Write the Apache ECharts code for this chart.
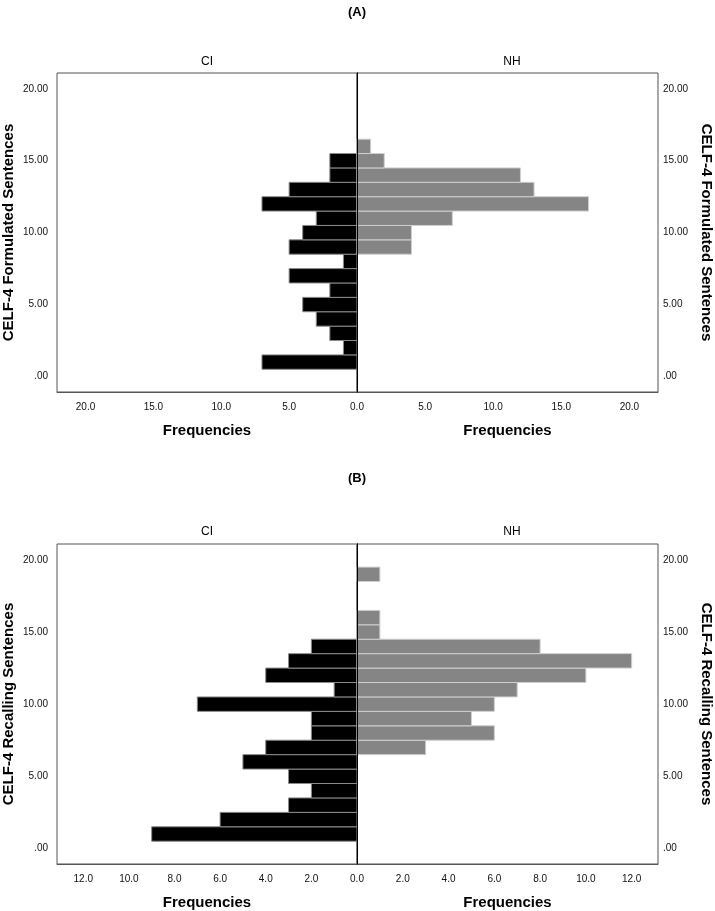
<!DOCTYPE html>
<html>
<head>
<meta charset="utf-8">
<script src="https://cdn.jsdelivr.net/npm/echarts@6/dist/echarts.min.js"></script>
<style>html,body{margin:0;padding:0;background:#fff;}#c{width:715px;height:911px;}</style>
</head>
<body>
<div id="c"></div>
<script>
// Panel A: CELF-4 Formulated Sentences
const binsA_CI = [1, 2, 3, 4, 5, 6, 7, 8, 9, 10, 11, 12, 13, 14, 15];
const countsA_CI = [7, 1, 2, 3, 4, 2, 5, 1, 5, 4, 3, 7, 5, 2, 2];
const binsA_NH = [9, 10, 11, 12, 13, 14, 15, 16];
const countsA_NH = [4, 4, 7, 17, 13, 12, 2, 1];
// Panel B: CELF-4 Recalling Sentences
const binsB_CI = [1, 2, 3, 4, 5, 6, 7, 8, 9, 10, 11, 12, 13, 14];
const countsB_CI = [9, 6, 3, 2, 3, 5, 4, 2, 2, 7, 1, 4, 3, 2];
const binsB_NH = [7, 8, 9, 10, 11, 12, 13, 14, 15, 16, 19];
const countsB_NH = [3, 6, 5, 6, 7, 10, 12, 8, 1, 1, 1];

const groupLabels = ['CI', 'NH'];
const panelLabels = ['(A)', '(B)'];
const yTitles = ['CELF-4 Formulated Sentences', 'CELF-4 Recalling Sentences'];
const xTitle = 'Frequencies';
const xTickStepA = 5, xTickStepB = 2;

const NARROW = '"Liberation Sans Narrow", "Arial Narrow", "Liberation Sans", Arial, sans-serif';
const SANS = '"Liberation Sans", Arial, Helvetica, sans-serif';

const chart = echarts.init(document.getElementById('c'), null, {renderer: 'canvas'});

const yMin = -1.08, yMax = 21.1;
const xMaxA = 22.1, xMaxB = 13.15;

function pairs(bins, counts) { return bins.map((b, i) => [counts[i], b]); }

function renderBar(fill, stroke) {
  return function (params, api) {
    const v = api.value(0), y = api.value(1);
    const p0 = api.coord([0, y - 0.5]);
    const p1 = api.coord([v, y + 0.5]);
    return {
      type: 'rect',
      shape: {
        x: Math.min(p0[0], p1[0]), y: Math.min(p0[1], p1[1]),
        width: Math.abs(p1[0] - p0[0]), height: Math.abs(p1[1] - p0[1])
      },
      style: {fill: fill, stroke: stroke, lineWidth: 1}
    };
  };
}

const grids = [
  {left: 56, top: 73, width: 301, height: 319},
  {left: 357, top: 73, width: 301, height: 319},
  {left: 56, top: 544, width: 301, height: 321},
  {left: 357, top: 544, width: 301, height: 321}
].map(g => Object.assign(g, {show: true, borderColor: '#555', borderWidth: 1, containLabel: false}));

function xAxisDef(gi, max, step, inverse) {
  return {
    type: 'value', gridIndex: gi, min: 0, max: max, interval: step, inverse: inverse,
    name: xTitle, nameLocation: 'middle', nameGap: 31,
    nameTextStyle: {fontFamily: SANS, fontWeight: 'bold', fontSize: 15, color: '#000'},
    axisLine: {show: true, onZero: false, lineStyle: {color: '#555', width: 1}},
    axisTick: {show: false}, splitLine: {show: false},
    axisLabel: {
      fontFamily: NARROW, fontSize: 10, color: '#111', margin: 10,
      showMinLabel: !inverse,
      formatter: v => (Math.abs(v / step - Math.round(v / step)) < 1e-6 && v <= max - 0.5) ? v.toFixed(1) : ''
    }
  };
}

function yLabelFmt(v) {
  if (Math.abs(v / 5 - Math.round(v / 5)) > 1e-6 || v < -0.01 || v > 20.01) return '';
  return Math.abs(v) < 1e-9 ? '.00' : v.toFixed(2);
}

function yAxisMain(gi, pos, title) {
  return {
    type: 'value', gridIndex: gi, position: pos, min: yMin, max: yMax, splitNumber: 5,
    name: title, nameLocation: 'middle', nameGap: pos === 'left' ? 41 : 41,
    nameRotate: pos === 'left' ? 90 : -90,
    nameTextStyle: {fontFamily: SANS, fontWeight: 'bold', fontSize: 15, color: '#000'},
    axisLine: {show: true, lineStyle: {color: '#555', width: 1}},
    axisTick: {show: false}, splitLine: {show: false},
    axisLabel: {fontFamily: NARROW, fontSize: 10, color: '#111', margin: pos === 'left' ? 9 : 5, formatter: yLabelFmt}
  };
}

function yAxisCenter(gi) {
  return {
    type: 'value', gridIndex: gi, position: 'right', min: yMin, max: yMax, z: 10,
    axisLine: {show: true, lineStyle: {color: '#000', width: 1}},
    axisTick: {show: false}, splitLine: {show: false}, axisLabel: {show: false}
  };
}

const option = {
  animation: false,
  backgroundColor: '#fff',
  grid: grids,
  xAxis: [
    xAxisDef(0, xMaxA, xTickStepA, true),
    xAxisDef(1, xMaxA, xTickStepA, false),
    xAxisDef(2, xMaxB, xTickStepB, true),
    xAxisDef(3, xMaxB, xTickStepB, false)
  ],
  yAxis: [
    yAxisMain(0, 'left', yTitles[0]),
    yAxisMain(1, 'right', yTitles[0]),
    yAxisMain(2, 'left', yTitles[1]),
    yAxisMain(3, 'right', yTitles[1]),
    yAxisCenter(0),
    yAxisCenter(2)
  ],
  series: [
    {type: 'custom', xAxisIndex: 0, yAxisIndex: 0, encode: {x: 0, y: 1}, data: pairs(binsA_CI, countsA_CI), renderItem: renderBar('#000', '#8a8a8a')},
    {type: 'custom', xAxisIndex: 1, yAxisIndex: 1, encode: {x: 0, y: 1}, data: pairs(binsA_NH, countsA_NH), renderItem: renderBar('#858585', '#cfcfcf')},
    {type: 'custom', xAxisIndex: 2, yAxisIndex: 2, encode: {x: 0, y: 1}, data: pairs(binsB_CI, countsB_CI), renderItem: renderBar('#000', '#8a8a8a')},
    {type: 'custom', xAxisIndex: 3, yAxisIndex: 3, encode: {x: 0, y: 1}, data: pairs(binsB_NH, countsB_NH), renderItem: renderBar('#858585', '#cfcfcf')}
  ],
  graphic: [
    {type: 'text', x: 357, y: 12, style: {text: panelLabels[0], align: 'center', verticalAlign: 'middle', font: 'bold 13px ' + SANS, fill: '#000'}},
    {type: 'text', x: 357, y: 478, style: {text: panelLabels[1], align: 'center', verticalAlign: 'middle', font: 'bold 13px ' + SANS, fill: '#000'}},
    {type: 'text', x: 207, y: 62, style: {text: groupLabels[0], align: 'center', verticalAlign: 'middle', font: '12px ' + NARROW, fill: '#000'}},
    {type: 'text', x: 512, y: 62, style: {text: groupLabels[1], align: 'center', verticalAlign: 'middle', font: '12px ' + NARROW, fill: '#000'}},
    {type: 'text', x: 207, y: 532, style: {text: groupLabels[0], align: 'center', verticalAlign: 'middle', font: '12px ' + NARROW, fill: '#000'}},
    {type: 'text', x: 512, y: 532, style: {text: groupLabels[1], align: 'center', verticalAlign: 'middle', font: '12px ' + NARROW, fill: '#000'}}
  ]
};
chart.setOption(option);
</script>
</body>
</html>
